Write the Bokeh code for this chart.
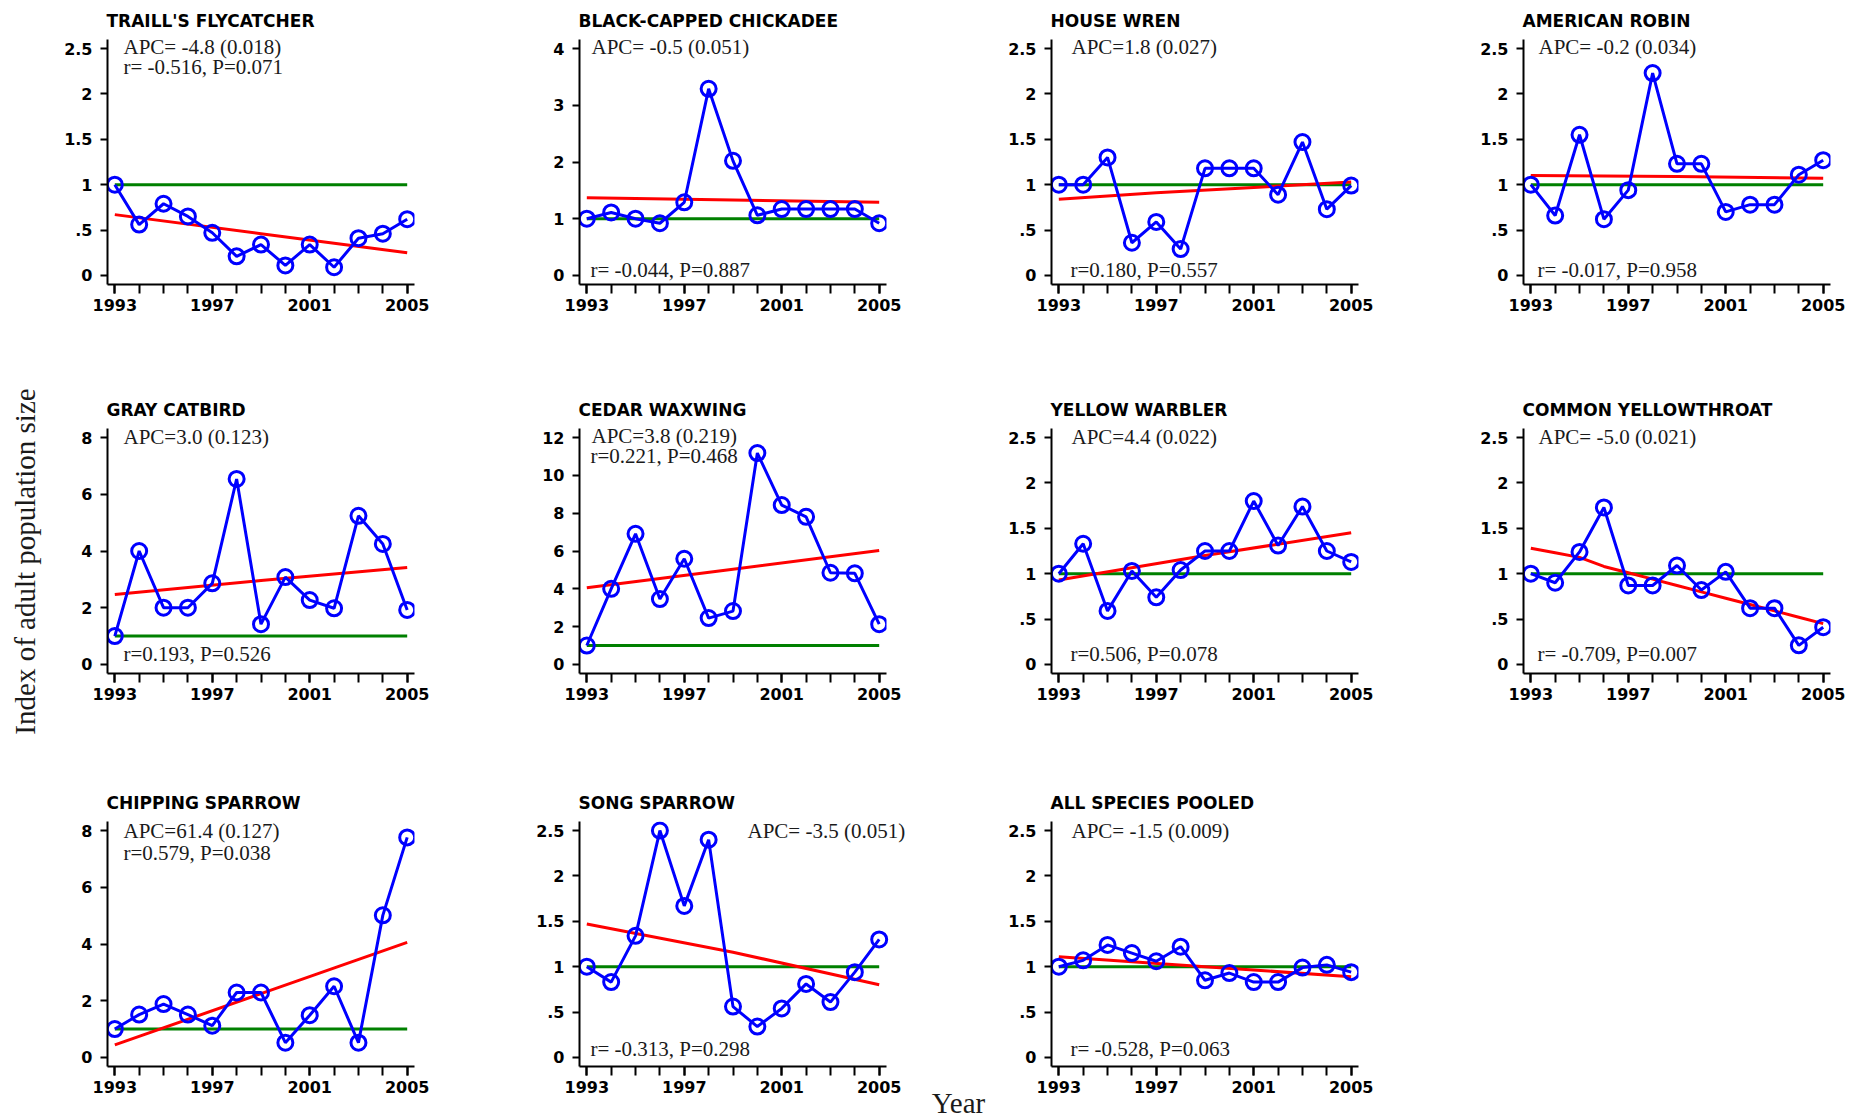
import math
from bokeh.plotting import figure
from bokeh.models import Range1d, FixedTicker, CustomJSTickFormatter, Label
from bokeh.layouts import column, row
from bokeh.embed import file_html
from bokeh.resources import INLINE

# ---------------- data ----------------
YEARS = [1993, 1994, 1995, 1996, 1997, 1998, 1999, 2000, 2001, 2002, 2003, 2004, 2005]
X_MAJOR = [1993, 1997, 2001, 2005]

SPECIES = ["TRAILL'S FLYCATCHER", "BLACK-CAPPED CHICKADEE", "HOUSE WREN", "AMERICAN ROBIN",
           "GRAY CATBIRD", "CEDAR WAXWING", "YELLOW WARBLER", "COMMON YELLOWTHROAT",
           "CHIPPING SPARROW", "SONG SPARROW", "ALL SPECIES POOLED"]

traills_flycatcher = [1.0, 0.56, 0.79, 0.65, 0.47, 0.21, 0.34, 0.11, 0.34, 0.09, 0.41, 0.46, 0.62]
black_capped_chickadee = [1.0, 1.11, 1.0, 0.92, 1.29, 3.29, 2.02, 1.06, 1.17, 1.17, 1.17, 1.17, 0.92]
house_wren = [1.0, 1.0, 1.30, 0.36, 0.59, 0.29, 1.18, 1.18, 1.18, 0.89, 1.47, 0.73, 0.99]
american_robin = [1.0, 0.66, 1.55, 0.62, 0.94, 2.23, 1.23, 1.23, 0.70, 0.78, 0.78, 1.11, 1.27]
gray_catbird = [1.0, 4.0, 2.0, 2.0, 2.86, 6.54, 1.42, 3.08, 2.27, 1.98, 5.24, 4.25, 1.92]
cedar_waxwing = [1.0, 4.0, 6.91, 3.46, 5.59, 2.45, 2.82, 11.18, 8.43, 7.81, 4.85, 4.82, 2.13]
yellow_warbler = [1.0, 1.33, 0.59, 1.03, 0.74, 1.04, 1.25, 1.25, 1.80, 1.31, 1.74, 1.25, 1.13]
common_yellowthroat = [1.0, 0.90, 1.24, 1.73, 0.87, 0.87, 1.09, 0.82, 1.02, 0.62, 0.62, 0.21, 0.41]
chipping_sparrow = [1.0, 1.51, 1.88, 1.51, 1.12, 2.29, 2.29, 0.52, 1.49, 2.51, 0.52, 5.01, 7.76]
song_sparrow = [1.0, 0.83, 1.34, 2.5, 1.67, 2.40, 0.56, 0.34, 0.54, 0.81, 0.61, 0.94, 1.30]
all_species_pooled = [1.0, 1.07, 1.24, 1.15, 1.06, 1.22, 0.85, 0.93, 0.83, 0.83, 0.99, 1.02, 0.94]

SERIES = [traills_flycatcher, black_capped_chickadee, house_wren, american_robin,
          gray_catbird, cedar_waxwing, yellow_warbler, common_yellowthroat,
          chipping_sparrow, song_sparrow, all_species_pooled]

# fitted trend (red)
TREND_YEARS_3 = [1993, 1999, 2005]
trend_traills = [0.67, 0.46, 0.25]
trend_chickadee = [1.37, 1.33, 1.29]
trend_wren_years = [1993, 1997, 2001, 2005]
trend_wren = [0.84, 0.91, 0.97, 1.03]
trend_robin = [1.10, 1.09, 1.07]
trend_catbird = [2.47, 2.96, 3.42]
trend_waxwing = [4.06, 5.04, 6.03]
trend_warbler = [0.93, 1.20, 1.45]
trend_yellowthroat = [1.28, 1.23, 1.18, 1.08, 1.01, 0.94, 0.87, 0.80, 0.73, 0.66, 0.59, 0.52, 0.45]
trend_chipping = [0.44, 2.25, 4.06]
trend_song = [1.47, 1.16, 0.80]
trend_pooled = [1.11, 1.00, 0.89]

TRENDS = [(TREND_YEARS_3, trend_traills), (TREND_YEARS_3, trend_chickadee),
          (trend_wren_years, trend_wren), (TREND_YEARS_3, trend_robin),
          (TREND_YEARS_3, trend_catbird), (TREND_YEARS_3, trend_waxwing),
          (TREND_YEARS_3, trend_warbler), (YEARS, trend_yellowthroat),
          (TREND_YEARS_3, trend_chipping), (TREND_YEARS_3, trend_song),
          (TREND_YEARS_3, trend_pooled)]

BASELINE = 1.0

Y_TICKS_25 = [0, 0.5, 1, 1.5, 2, 2.5]
Y_TICKS_4 = [0, 1, 2, 3, 4]
Y_TICKS_8 = [0, 2, 4, 6, 8]
Y_TICKS_12 = [0, 2, 4, 6, 8, 10, 12]
Y_TICKS = [Y_TICKS_25, Y_TICKS_4, Y_TICKS_25, Y_TICKS_25,
           Y_TICKS_8, Y_TICKS_12, Y_TICKS_25, Y_TICKS_25,
           Y_TICKS_8, Y_TICKS_25, Y_TICKS_25]

APC_TEXT = ["APC= -4.8 (0.018)", "APC= -0.5 (0.051)", "APC=1.8 (0.027)", "APC= -0.2 (0.034)",
            "APC=3.0 (0.123)", "APC=3.8 (0.219)", "APC=4.4 (0.022)", "APC= -5.0 (0.021)",
            "APC=61.4 (0.127)", "APC= -3.5 (0.051)", "APC= -1.5 (0.009)"]
R_TEXT = ["r= -0.516, P=0.071", "r= -0.044, P=0.887", "r=0.180, P=0.557", "r= -0.017, P=0.958",
          "r=0.193, P=0.526", "r=0.221, P=0.468", "r=0.506, P=0.078", "r= -0.709, P=0.007",
          "r=0.579, P=0.038", "r= -0.313, P=0.298", "r= -0.528, P=0.063"]

Y_LABEL = "Index of adult population size"
X_LABEL = "Year"

# ---------------- layout / style ----------------
# (dx from frame left, anchor, dy) for APC text and r text
APC_POS = [(16, "top", 7), (12, "top", 7), (20, "top", 7), (15, "top", 7),
           (16, "top", 8), (12, "top", 7), (20, "top", 8), (15, "top", 8),
           (16, "top", 9), (168, "top", 9), (20, "top", 9)]
R_POS = [(16, "top", 27), (11, "bottom", 15), (19, "bottom", 15), (14, "bottom", 15),
         (16, "bottom", 20), (11, "top", 27), (19, "bottom", 20), (14, "bottom", 20),
         (16, "top", 31), (11, "bottom", 18), (19, "bottom", 18)]

X_START, X_END = 1992.7, 2005.3
FRAME_W, FRAME_H = 307, 245
PX_PER_YEAR = FRAME_W / (X_END - X_START)

# per grid cell: (width, min_border_left, frame extra width, min_border_right)
ROW_COLS = [
    [(432, 59, 0, 66), (472, 99, 0, 66), (472, 99, 0, 66), (428, 99, 0, 22)],
    [(432, 59, 0, 66), (472, 99, 0, 66), (472, 99, 0, 66), (428, 99, 0, 22)],
    [(432, 59, 0, 66), (440, 99, 30, 4), None, (429, 56, 0, 66)],
]
ROW_H = [380, 402, 336]
ROW_MBT = [39, 48, 39]
YEAR_W = 75
YLAB_W = 48
TOTAL_H = 1118

TICK_FONT = "DejaVu Sans"
SERIF = "Liberation Serif"
TXT_COLOR = "#1a1a1a"

Y_FMT = CustomJSTickFormatter(code="return tick == 0.5 ? '.5' : String(tick);")


def make_panel(i, r, cell):
    w, mbl, extra, mbr = cell
    ticks = Y_TICKS[i]
    ymax = ticks[-1]
    y0, y1 = -0.04 * ymax, 1.04 * ymax
    x_end = X_START + (FRAME_W + extra) / PX_PER_YEAR
    p = figure(width=w, height=ROW_H[r],
               x_range=Range1d(X_START, x_end), y_range=Range1d(y0, y1),
               output_backend="svg", toolbar_location=None,
               min_border_left=mbl, min_border_right=mbr,
               min_border_top=ROW_MBT[r],
               min_border_bottom=ROW_H[r] - ROW_MBT[r] - FRAME_H,
               title=SPECIES[i])
    p.outline_line_color = None
    p.grid.visible = False
    p.background_fill_color = "white"
    p.border_fill_color = "white"

    p.title.text_font = TICK_FONT
    p.title.text_font_size = "17px"
    p.title.text_font_style = "bold"
    p.title.text_color = "black"
    p.title.align = "left"
    p.title.offset = -1
    p.title.standoff = 17

    xa = p.xaxis[0]
    xa.ticker = FixedTicker(ticks=X_MAJOR, minor_ticks=YEARS)
    xa.bounds = (X_START, X_END)
    ya = p.yaxis[0]
    ya.ticker = FixedTicker(ticks=ticks, minor_ticks=[])
    ya.formatter = Y_FMT
    for ax in (xa, ya):
        ax.axis_line_width = 2
        ax.axis_line_color = "black"
        ax.major_tick_line_width = 2
        ax.major_tick_line_color = "black"
        ax.minor_tick_line_width = 2
        ax.minor_tick_line_color = "black"
        ax.major_tick_in = 0
        ax.minor_tick_in = 0
        ax.major_label_text_font = TICK_FONT
        ax.major_label_text_font_size = "16px"
        ax.major_label_text_font_style = "bold"
        ax.major_label_text_color = "black"
    xa.major_tick_out = 9
    xa.minor_tick_out = 9
    xa.major_label_standoff = 5
    ya.major_tick_out = 7
    ya.minor_tick_out = 0
    ya.major_label_standoff = 8

    # reference line, fitted trend, observed index
    p.line([YEARS[0], YEARS[-1]], [BASELINE, BASELINE], line_color="#008000", line_width=3)
    tx, ty = TRENDS[i]
    p.line(tx, ty, line_color="#ff0000", line_width=3)
    p.line(YEARS, SERIES[i], line_color="#0000ff", line_width=3)
    p.scatter(YEARS, SERIES[i], marker="circle", size=15, line_color="#0000ff",
              line_width=3, fill_color=None)

    for txt, (dx, anchor, dy) in ((APC_TEXT[i], APC_POS[i]), (R_TEXT[i], R_POS[i])):
        if anchor == "top":
            yy, off = y1, -dy
        else:
            yy, off = y0, dy
        p.add_layout(Label(x=X_START, y=yy, x_offset=dx, y_offset=off, text=txt,
                           text_font=SERIF, text_font_size="21px", text_color=TXT_COLOR,
                           text_align="left", text_baseline="middle"))
    return p


def blank(w, h):
    f = figure(width=w, height=h, x_range=Range1d(0, w), y_range=Range1d(0, h),
               x_axis_type=None, y_axis_type=None, output_backend="svg",
               toolbar_location=None, min_border=0,
               min_border_left=0, min_border_right=0,
               min_border_top=0, min_border_bottom=0)
    f.frame_align = False
    f.outline_line_color = None
    f.grid.visible = False
    return f


# axis titles live in their own blank canvases
ylab_fig = blank(YLAB_W, TOTAL_H)
ylab_fig.add_layout(Label(x=24, y=TOTAL_H - 561, text=Y_LABEL, angle=math.pi / 2,
                          text_font=SERIF, text_font_size="29px", text_color=TXT_COLOR,
                          text_align="center", text_baseline="middle"))
year_fig = blank(YEAR_W, ROW_H[2])
year_fig.add_layout(Label(x=38, y=16, text=X_LABEL, text_font=SERIF,
                          text_font_size="29px", text_color=TXT_COLOR,
                          text_align="center", text_baseline="middle"))

rows = []
k = 0
for r, cells in enumerate(ROW_COLS):
    figs = []
    for cell in cells:
        if cell is None:
            figs.append(year_fig)
            continue
        figs.append(make_panel(k, r, cell))
        k += 1
    rows.append(row(*figs))

layout = row(ylab_fig, column(*rows))
open("out.html", "w").write(file_html(layout, INLINE))
